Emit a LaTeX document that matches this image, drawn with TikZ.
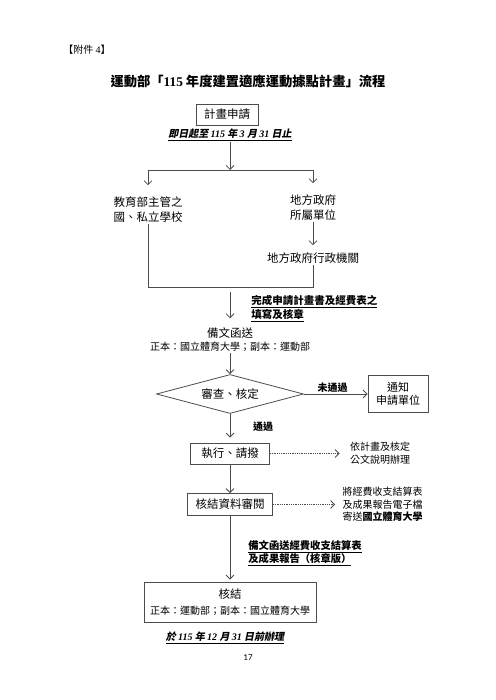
\documentclass[tikz,border=0pt]{standalone}
\usepackage{fontspec}
\setmainfont{Noto Sans CJK TC}
\newfontfamily\latin{Liberation Serif}
\newfontfamily\slantcjk{Noto Sans CJK TC}[FakeSlant=0.2]
\newfontfamily\pagefont{Carlito}
\usetikzlibrary{shapes.geometric, arrows.meta}

\begin{document}
\begin{tikzpicture}[x=1pt, y=-1pt, line width=0.8pt, >={Straight Barb[length=4pt, width=8pt]},
        box/.style={draw=black!70, inner sep=1pt, align=center, font=\fontsize{11.5}{15}\selectfont},
        txt/.style={inner sep=1pt, align=center, font=\fontsize{11.5}{15}\selectfont},
        small/.style={inner sep=1pt, align=center, font=\fontsize{10}{13}\selectfont},
        lbl/.style={inner sep=1pt, font=\bfseries\fontsize{10}{12}\selectfont},
        note/.style={inner sep=1pt, anchor=west, align=left, font=\bfseries\fontsize{10.5}{11.5}\selectfont},
        link/.style={draw=black!70, ->},
        hint/.style={draw=black!70, ->, densely dotted}]
    \useasboundingbox (0, 0) rectangle (495, 700);
    \node [small, anchor=west] (annex) at (62, 50) {【附件 {\latin 4}】};
    \node [font=\bfseries\fontsize{13.3}{16}\selectfont] (title) at (248, 81)
        {運動部「{\latin 115} 年度建置適應運動據點計畫」流程};
    % application and the two kinds of applicants
    \node [box, minimum width=62pt, minimum height=21pt] (apply) at (227, 114.5) {計畫申請};
    \node [lbl] (deadline) at (230, 135)
        {\underline{\slantcjk 即日起至 {\latin\itshape 115} 年 {\latin\itshape 3} 月 {\latin\itshape 31} 日止}};
    \coordinate (fork) at (230, 170);
    \draw [link] (deadline) -- (fork);
    \node [txt] (school) at (148, 209.5) {教育部主管之\\國、私立學校};
    \node [txt] (local) at (313, 207.5) {地方政府\\所屬單位};
    \draw [draw=black!70] (fork -| school) -- (fork -| local);
    \foreach \n in {school, local}
        \draw [link, shorten >=10pt] (fork -| \n) -- (\n);
    \node [txt] (localgov) at (313, 258) {地方政府行政機關};
    \draw [link, shorten >=6pt] (local) -- (localgov);
    \coordinate (join) at (230, 287);
    \draw [draw=black!70] (school.south) -- (school.south |- join) -- (join -| localgov) -- (localgov.south);
    % sending and review
    \node [note] (fillnote) at (250, 308.5)
        {\underline{完成申請計畫書及經費表之}\\\underline{填寫及核章}};
    \node [txt] (send) at (230, 333) {備文函送};
    \node [small] (sendcc) at (230, 347) {正本：國立體育大學；副本：運動部};
    \draw [link, shorten <=5pt, shorten >=8pt] (join) -- (send);
    \node [diamond, draw=black!70, aspect=3.8, inner sep=0pt, minimum width=147pt, minimum height=39pt,
        font=\fontsize{11.5}{15}\selectfont] (review) at (230, 394) {審查、核定};
    \draw [link] (sendcc) -- (review);
    \node [box, minimum width=60pt, minimum height=37pt, font=\fontsize{11}{12.5}\selectfont] (notify)
        at (398, 394) {通知\\申請單位};
    \draw [link] (review) -- node [lbl, above, pos=0.45] (fail) {未通過} (notify);
    % execution and closing
    \node [box, minimum width=79pt, minimum height=21pt] (exec) at (230, 453.5) {執行、請撥};
    \draw [link, shorten >=5pt] (review) -- (exec);
    \node [lbl] (pass) at (263, 427) {通過};
    \node [small] (execnote) at (380, 453.5) {依計畫及核定\\公文說明辦理};
    \draw [hint, shorten >=9pt] (exec) -- (execnote);
    \node [box, minimum width=85pt, minimum height=22pt] (check) at (230, 504.5) {核結資料審閱};
    \draw [link] (exec) -- (check);
    \node [small, font=\fontsize{10}{12.5}\selectfont] (checknote) at (382.5, 504.5)
        {將經費收支結算表\\及成果報告電子檔\\寄送{\bfseries 國立體育大學}};
    \draw [hint, shorten >=6pt] (check) -- (checknote);
    \node [note, font=\bfseries\fontsize{10.3}{12}\selectfont] (reportnote) at (247, 553)
        {\underline{備文函送經費收支結算表}\\\underline{及成果報告（核章版）}};
    \node [box, minimum width=172pt, minimum height=40pt, font=\fontsize{11.5}{16}\selectfont] (final)
        at (230, 602) {核結\\{\fontsize{10}{12}\selectfont 正本：運動部；副本：國立體育大學}};
    \draw [link, shorten >=2pt] (check) -- (final);
    \node [lbl] (duedate) at (225, 638)
        {\underline{\slantcjk 於 {\latin\itshape 115} 年 {\latin\itshape 12} 月 {\latin\itshape 31} 日前辦理}};
    \node [font=\pagefont\fontsize{9}{11}\selectfont] (page) at (248, 658) {17};
\end{tikzpicture}
\end{document}
